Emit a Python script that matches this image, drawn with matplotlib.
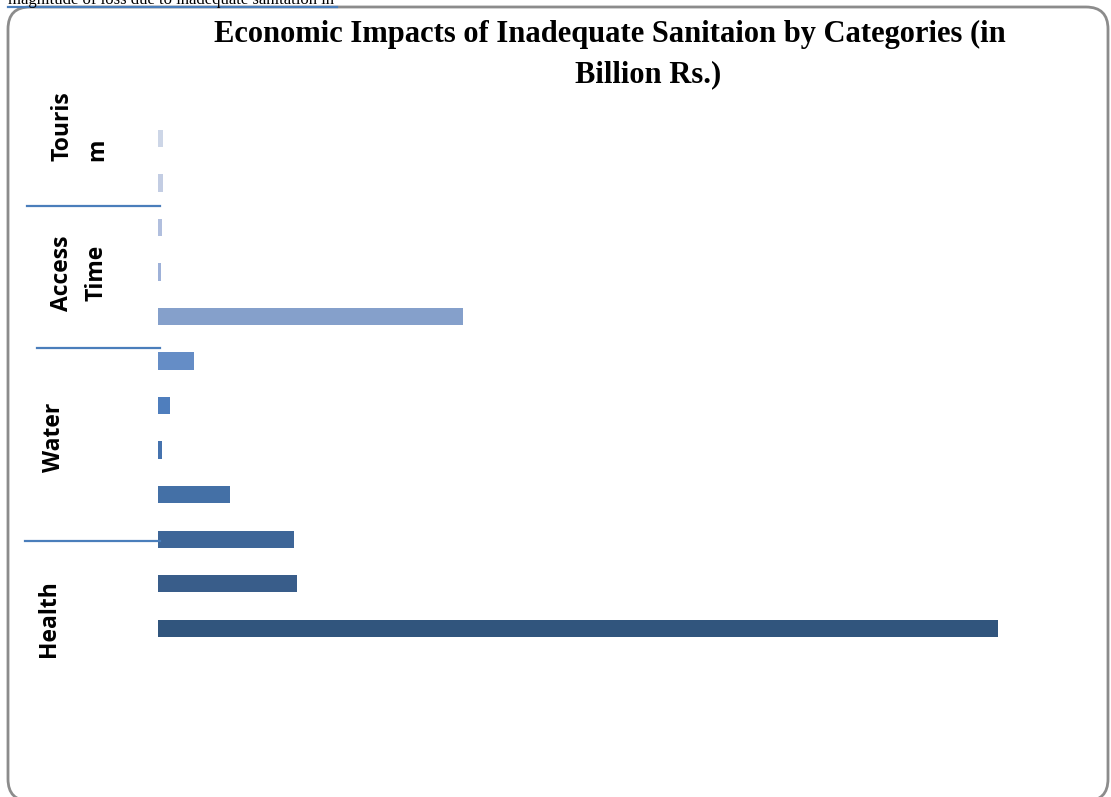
import matplotlib
matplotlib.use("Agg")
import matplotlib.pyplot as plt
from matplotlib.patches import FancyBboxPatch
from matplotlib.lines import Line2D
from matplotlib.transforms import blended_transform_factory


# -------------------------------------------------
# Data (billion Rs., top to bottom)
# -------------------------------------------------

groups = ["Touris\nm", "Access\nTime", "Water", "Health"]
group_sizes = [2, 3, 4, 3]

values = [9, 9, 7, 5, 549, 65, 22, 7, 130, 245, 250, 1512]

bar_colors = [
    "#CDD6E7", "#C3CDE3", "#B1BFDE", "#9EB1D8", "#85A0CB", "#658DC6",
    "#4F7EBD", "#4673AE", "#4470A6", "#3E6698", "#395D8A", "#31557D",
]

title_line1 = "Economic Impacts of Inadequate Sanitaion by Categories (in"
title_line2 = "Billion Rs.)"
cut_text = "magnitude of loss due to inadequate sanitation in"


# -------------------------------------------------
# Figure
# -------------------------------------------------

W, H = 1111, 797
fig = plt.figure(figsize=(W / 100, H / 100), dpi=100)

# rounded chart frame (in inches so the corners stay round)
frame = FancyBboxPatch(
    (0.08, -0.04), 11.0, 7.94,
    boxstyle="round,pad=0,rounding_size=0.22",
    transform=fig.dpi_scale_trans,
    facecolor="white",
    edgecolor="#8C8C8C",
    linewidth=2.0,
    zorder=-5
)
fig.patches.append(frame)

# text of the page above the chart, mostly cut off
fig.text(
    8 / W, 1 - 4 / H, cut_text,
    family="Liberation Serif", fontsize=12,
    ha="left", va="baseline", color="black"
)
fig.add_artist(Line2D(
    [8 / W, 337 / W], [1 - 7 / H, 1 - 7 / H],
    transform=fig.transFigure, color="#4A7EBB", linewidth=1.6
))

# title
fig.text(610 / W, 1 - 42 / H, title_line1,
         family="Liberation Serif", fontweight="bold", fontsize=22,
         ha="center", va="baseline")
fig.text(648 / W, 1 - 82 / H, title_line2,
         family="Liberation Serif", fontweight="bold", fontsize=22,
         ha="center", va="baseline")


# -------------------------------------------------
# Bars
# -------------------------------------------------

ax = fig.add_axes([158 / W, 35 / H, (1050 - 158) / W, (762 - 116) / H])
ax.set_zorder(2)

n = len(values)
y_pos = [n - 1 - i for i in range(n)]

ax.barh(y_pos, values, height=0.39, color=bar_colors, edgecolor="none")

ax.set_xlim(0, 1606)
ax.set_ylim(-3.0, 11.5)
ax.axis("off")


# -------------------------------------------------
# Group labels and separators (left of the axis)
# -------------------------------------------------

trans = blended_transform_factory(fig.transFigure, ax.transData)

label_x = [80, 79, 54, 49]
label_y = [10.49, 7.98, 4.28, 0.21]
label_va = ["bottom", "center", "center", "center"]
label_ma = ["left", "center", "center", "center"]

for name, lx, ly, va, ma in zip(groups, label_x, label_y, label_va, label_ma):
    ax.text(
        lx / W, ly, name, transform=trans,
        rotation=90, ha="center", va=va, multialignment=ma,
        family="Open Sans", fontweight="bold", fontsize=16.5,
        linespacing=1.6, clip_on=False
    )

sep_y = [9.47, 6.29, 1.96]
sep_x0 = [27, 37, 25]

for sy, sx in zip(sep_y, sep_x0):
    ax.add_line(Line2D(
        [sx / W, 160 / W], [sy, sy], transform=trans,
        color="#4A7EBB", linewidth=1.6, clip_on=False
    ))


plt.savefig("out.png", dpi=100)
plt.close()
